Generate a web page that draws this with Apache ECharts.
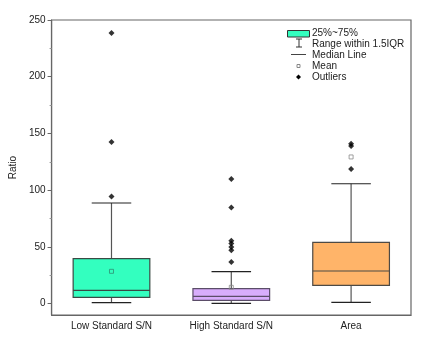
<!DOCTYPE html>
<html><head><meta charset="utf-8">
<script src="https://cdn.jsdelivr.net/npm/echarts@6/dist/echarts.min.js"></script>
<style>html,body{margin:0;padding:0;background:#fff}#c{width:422px;height:343px}</style>
</head><body><div id="c"></div>
<script>
const categories = ['Low Standard S/N', 'High Standard S/N', 'Area'];
// [whiskerLow, Q1, median, Q3, whiskerHigh]
const boxLow = [0.9, 5.5, 11.7, 39.6, 88.7];
const boxHigh = [0.3, 2.9, 6.4, 13.2, 28.2];
const boxArea = [1.2, 16.1, 28.8, 54.0, 105.7];
const means = [28.5, 14.4, 129.3];
const outliersLow = [94.5, 142.5, 238.5];
const outliersHigh = [36.7, 47, 50, 53, 55.5, 84.8, 109.9];
const outliersArea = [118.7, 139, 141];
const yTicks = [0, 50, 100, 150, 200, 250];
const yMinorTicks = [25, 75, 125, 175, 225];

const fills = ['#33FFBF', '#D8ADFB', '#FFB469'];
const strokes = ['#3a4a44', '#5b4d68', '#4d4a45'];
const meanColors = ['#2f8f74', '#8a8a8a', '#8a8a8a'];
const boxes = [boxLow, boxHigh, boxArea];

const boxData = boxes.map((b, i) => [i].concat(b));
const outData = [];
[outliersLow, outliersHigh, outliersArea].forEach((arr, i) => arr.forEach(v => outData.push([i, v])));
const meanData = means.map((m, i) => ({value: [i, m], itemStyle: {borderColor: meanColors[i]}}));

const chart = echarts.init(document.getElementById('c'), null, {renderer: 'canvas'});
const font = 'Liberation Sans, Arial, sans-serif';
const legendX = 299, textX = 312;
chart.setOption({
  animation: false,
  grid: {left: 45, right: 11, top: 20, bottom: 28, show: true, borderColor: '#666', borderWidth: 1.2},
  xAxis: {
    type: 'category', data: categories, boundaryGap: true,
    axisLine: {onZero: false, lineStyle: {color: '#666', width: 1.2}},
    axisTick: {inside: true, length: 5, alignWithLabel: true, lineStyle: {color: '#666'}},
    axisLabel: {color: '#222', fontSize: 10, fontFamily: font, margin: 6},
    splitLine: {show: false}
  },
  yAxis: [{
    type: 'value', min: -10, max: 250,
    name: 'Ratio', nameLocation: 'middle', nameGap: 28, nameRotate: 90,
    nameTextStyle: {color: '#222', fontSize: 10, fontFamily: font},
    axisLine: {show: true, onZero: false, lineStyle: {color: '#666', width: 1.2}},
    axisTick: {show: true, length: 4, customValues: yTicks, lineStyle: {color: '#666'}},
    axisLabel: {color: '#222', fontSize: 10, fontFamily: font, margin: 6, customValues: yTicks},
    splitLine: {show: false}
  }, {
    type: 'value', min: -10, max: 250, position: 'left',
    axisLine: {show: false, onZero: false},
    axisTick: {show: true, length: 2, customValues: yMinorTicks, lineStyle: {color: '#999'}},
    axisLabel: {show: false, customValues: yMinorTicks},
    splitLine: {show: false}
  }],
  series: [{
    type: 'custom',
    data: boxData,
    encode: {x: 0, y: [1, 2, 3, 4, 5]},
    renderItem: function (params, api) {
      const i = api.value(0);
      const lo = api.coord([i, api.value(1)]);
      const q1 = api.coord([i, api.value(2)]);
      const md = api.coord([i, api.value(3)]);
      const q3 = api.coord([i, api.value(4)]);
      const hi = api.coord([i, api.value(5)]);
      const cw = api.size([1, 0])[0];
      const bw = cw * 0.64, capw = cw * 0.33;
      const x = lo[0];
      const wl = {stroke: '#555', lineWidth: 1.2};
      return {type: 'group', children: [
        {type: 'line', shape: {x1: x, y1: q1[1], x2: x, y2: lo[1]}, style: wl},
        {type: 'line', shape: {x1: x, y1: q3[1], x2: x, y2: hi[1]}, style: wl},
        {type: 'line', shape: {x1: x - capw / 2, y1: lo[1], x2: x + capw / 2, y2: lo[1]}, style: {stroke: '#222', lineWidth: 1.2}},
        {type: 'line', shape: {x1: x - capw / 2, y1: hi[1], x2: x + capw / 2, y2: hi[1]}, style: {stroke: '#222', lineWidth: 1.2}},
        {type: 'rect', shape: {x: x - bw / 2, y: q3[1], width: bw, height: q1[1] - q3[1]},
          style: {fill: fills[i], stroke: strokes[i], lineWidth: 1.2}},
        {type: 'line', shape: {x1: x - bw / 2, y1: md[1], x2: x + bw / 2, y2: md[1]}, style: {stroke: strokes[i], lineWidth: 1.2}}
      ]};
    },
    z: 2
  }, {
    type: 'scatter', data: outData, symbol: 'diamond', symbolSize: 6,
    itemStyle: {color: '#000'}, z: 3
  }, {
    type: 'scatter', data: meanData, symbol: 'rect', symbolSize: 4,
    itemStyle: {color: 'rgba(0,0,0,0)', borderWidth: 1}, z: 4
  }],
  graphic: [
    {type: 'rect', shape: {x: 287.5, y: 30.5, width: 22, height: 6.5}, style: {fill: fills[0], stroke: '#333', lineWidth: 1}},
    {type: 'text', style: {x: textX, y: 33.5, text: '25%~75%', font: '10px ' + font, fill: '#222', textVerticalAlign: 'middle'}},
    {type: 'line', shape: {x1: legendX, y1: 39, x2: legendX, y2: 47}, style: {stroke: '#333', lineWidth: 1}},
    {type: 'line', shape: {x1: legendX - 3, y1: 39, x2: legendX + 3, y2: 39}, style: {stroke: '#333', lineWidth: 1}},
    {type: 'line', shape: {x1: legendX - 3, y1: 47, x2: legendX + 3, y2: 47}, style: {stroke: '#333', lineWidth: 1}},
    {type: 'text', style: {x: textX, y: 44, text: 'Range within 1.5IQR', font: '10px ' + font, fill: '#222', textVerticalAlign: 'middle'}},
    {type: 'line', shape: {x1: 291, y1: 54.5, x2: 306, y2: 54.5}, style: {stroke: '#444', lineWidth: 1}},
    {type: 'text', style: {x: textX, y: 55, text: 'Median Line', font: '10px ' + font, fill: '#222', textVerticalAlign: 'middle'}},
    {type: 'rect', shape: {x: 297, y: 64.5, width: 3, height: 3}, style: {fill: 'none', stroke: '#888', lineWidth: 1}},
    {type: 'text', style: {x: textX, y: 66, text: 'Mean', font: '10px ' + font, fill: '#222', textVerticalAlign: 'middle'}},
    {type: 'polygon', shape: {points: [[298.5, 74.5], [301, 77], [298.5, 79.5], [296, 77]]}, style: {fill: '#000'}},
    {type: 'text', style: {x: textX, y: 77, text: 'Outliers', font: '10px ' + font, fill: '#222', textVerticalAlign: 'middle'}}
  ]
});
</script></body></html>
